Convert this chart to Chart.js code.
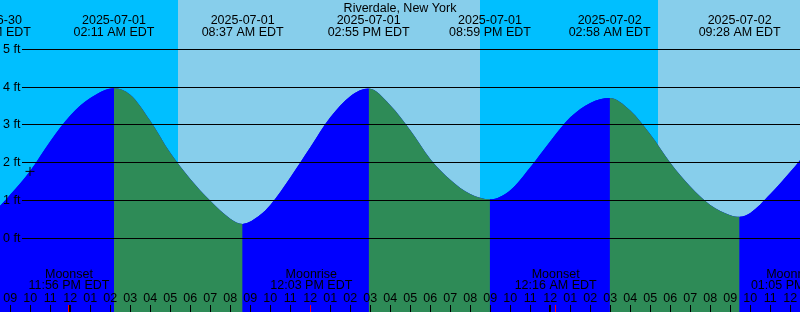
<!DOCTYPE html>
<html><head><meta charset="utf-8">
<script src="https://cdn.jsdelivr.net/npm/chart.js@4/dist/chart.umd.min.js"></script>
<style>html,body{margin:0;padding:0;background:#00BFFF;overflow:hidden}#wrap{width:800px;height:312px;position:relative}canvas{display:block}</style>
</head><body><div id="wrap"><canvas id="c" width="800" height="312"></canvas></div>
<script>
const title = "Riverdale, New York";
// time in hours since 2025-07-01 00:00 EDT
const tideHours = [-4.02, -3.5, -3, -2, -1, 0, 1, 2.183, 3, 4, 5, 6, 7, 8, 8.617, 9.5, 10, 11, 12, 13, 14, 14.917, 16, 17, 18, 19, 20, 20.983, 22, 23, 24, 25, 26, 26.967, 28, 29, 30, 31, 32, 33, 33.467, 34, 35, 36, 37];
const tideFeet  = [0.70, 0.87, 1.16, 1.79, 2.57, 3.25, 3.71, 3.97, 3.80, 3.11, 2.26, 1.57, 0.99, 0.52, 0.38, 0.62, 0.88, 1.61, 2.41, 3.20, 3.76, 3.96, 3.52, 2.86, 2.10, 1.55, 1.17, 1.03, 1.27, 1.88, 2.57, 3.20, 3.58, 3.71, 3.38, 2.75, 2.00, 1.37, 0.88, 0.61, 0.57, 0.67, 1.17, 1.76, 2.40];
const extremeHours = [-4.02, 2.183, 8.617, 14.917, 20.983, 26.967, 33.467];
const extremeDates = ["2025-06-30", "2025-07-01", "2025-07-01", "2025-07-01", "2025-07-01", "2025-07-02", "2025-07-02"];
const extremeTimes = ["07:59 PM EDT", "02:11 AM EDT", "08:37 AM EDT", "02:55 PM EDT", "08:59 PM EDT", "02:58 AM EDT", "09:28 AM EDT"];
const sunriseHours = [5.375, 29.375];
const sunsetHours = [20.475];
const moonHours = [-0.067, 12.05, 24.267, 36.08];
const moonNames = ["Moonset", "Moonrise", "Moonset", "Moonrise"];
const moonTimes = ["11:56 PM EDT", "12:03 PM EDT", "12:16 AM EDT", "01:05 PM EDT"];
const hourTicks = [-3, -2, -1, 0, 1, 2, 3, 4, 5, 6, 7, 8, 9, 10, 11, 12, 13, 14, 15, 16, 17, 18, 19, 20, 21, 22, 23, 24, 25, 26, 27, 28, 29, 30, 31, 32, 33, 34, 35, 36];
const hourLabels = ["09","10","11","12","01","02","03","04","05","06","07","08","09","10","11","12","01","02","03","04","05","06","07","08","09","10","11","12","01","02","03","04","05","06","07","08","09","10","11","12"];
const footTicks = [0, 1, 2, 3, 4, 5];
const footLabels = ["0 ft", "1 ft", "2 ft", "3 ft", "4 ft", "5 ft"];
const nowHour = -2.015;
const nowFeet = 1.77;

const NIGHT = '#00BFFF', DAY = '#87CEEB', RISE = '#0000FF', FALL = '#2E8B57';
const FONT = '12.5px "Liberation Sans", Arial, sans-serif';

const decor = {
  id: 'decor',
  beforeDatasetsDraw(chart) {
    const {ctx, scales: {x}} = chart;
    ctx.save();
    ctx.fillStyle = NIGHT;
    ctx.fillRect(0, 0, chart.width, chart.height);
    ctx.fillStyle = DAY;
    const starts = sunriseHours, ends = sunsetHours.concat([Infinity]);
    for (let i = 0; i < starts.length; i++) {
      const x0 = Math.round(x.getPixelForValue(starts[i]));
      const x1 = ends[i] === Infinity ? chart.width : Math.round(x.getPixelForValue(ends[i]));
      ctx.fillRect(x0, 0, x1 - x0, chart.height);
    }
    ctx.restore();
  },
  afterDatasetsDraw(chart) {
    const {ctx, scales: {x, y}} = chart;
    ctx.save();
    ctx.fillStyle = '#000';
    ctx.font = FONT;
    footTicks.forEach((v, i) => {
      const py = Math.floor(y.getPixelForValue(v));
      ctx.fillRect(22, py, chart.width - 22, 1);
      ctx.textAlign = 'left';
      ctx.fillText(footLabels[i], 3, py + 3.5);
    });
    ctx.textAlign = 'center';
    ctx.fillText(title, 400, 12);
    extremeHours.forEach((h, i) => {
      const px = x.getPixelForValue(h);
      ctx.fillText(extremeDates[i], px, 24.3);
      ctx.fillText(extremeTimes[i], px, 36);
    });
    hourTicks.forEach((h, i) => {
      const px = x.getPixelForValue(h);
      ctx.fillText(hourLabels[i], px, 301.7);
      const rx = Math.round(px);
      if ((((h % 24) + 24) % 24) === 0) ctx.fillRect(rx - 1, 305, 2, 7);
      else ctx.fillRect(rx, 305, 1, 7);
    });
    moonHours.forEach((h, i) => {
      const px = x.getPixelForValue(h);
      ctx.fillStyle = '#000';
      ctx.fillText(moonNames[i], px, 277.7);
      ctx.fillText(moonTimes[i], px, 289.3);
      if (i < 3) {
        ctx.fillStyle = '#FF0000';
        ctx.fillRect(Math.round(px) - 1, 305, 1, 7);
      }
    });
    ctx.restore();
  }
};

const tidePoints = tideHours.map((h, i) => ({x: h, y: tideFeet[i]}));

new Chart(document.getElementById('c'), {
  type: 'line',
  data: {
    datasets: [{
      data: tidePoints,
      fill: 'start',
      borderWidth: 0,
      borderColor: 'rgba(0,0,0,0)',
      backgroundColor: RISE,
      pointRadius: 0,
      cubicInterpolationMode: 'monotone',
      segment: {
        backgroundColor: c => (c.p1.parsed.y > c.p0.parsed.y ? RISE : FALL)
      },
      order: 2
    }, {
      // underlay so segment seams don't show the sky through
      data: tidePoints,
      fill: 'start',
      borderWidth: 0,
      borderColor: 'rgba(0,0,0,0)',
      backgroundColor: RISE,
      pointRadius: 0,
      cubicInterpolationMode: 'monotone',
      order: 3
    }, {
      type: 'scatter',
      data: [{x: nowHour, y: nowFeet}],
      pointStyle: 'cross',
      pointRadius: 4.5,
      borderColor: '#000',
      backgroundColor: '#000',
      borderWidth: 1,
      showLine: false,
      order: 1
    }]
  },
  options: {
    responsive: false,
    animation: false,
    devicePixelRatio: 1,
    layout: {padding: 0, autoPadding: false},
    plugins: {legend: {display: false}, tooltip: {enabled: false}},
    events: [],
    scales: {
      x: {type: 'linear', min: -3.515, max: 36.485, display: false},
      y: {type: 'linear', min: -1.95, max: 6.304, display: false}
    }
  },
  plugins: [decor]
});
</script>
</body></html>
